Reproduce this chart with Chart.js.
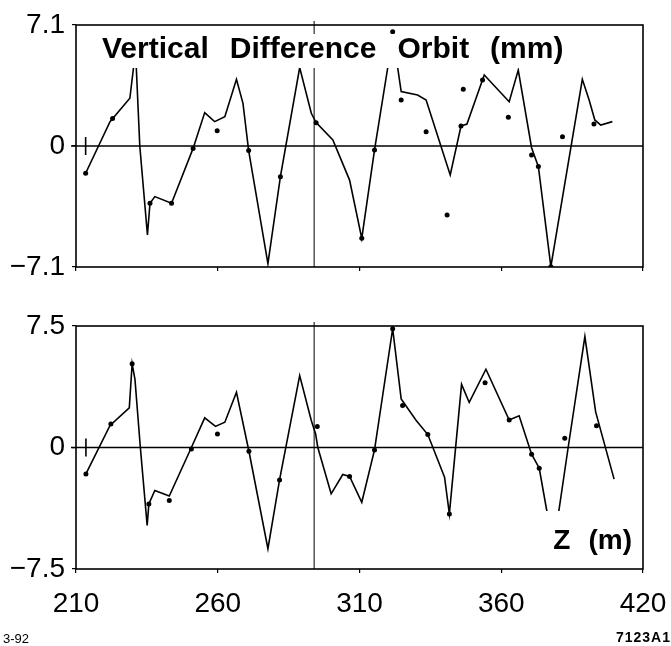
<!DOCTYPE html>
<html>
<head>
<meta charset="utf-8">
<script src="https://cdn.jsdelivr.net/npm/chart.js@4"></script>
<style>
    body { margin: 0; background: #fff; width: 671px; height: 646px; position: relative; overflow: hidden; font-family: "Liberation Sans", Arial, sans-serif; }
    .box { position: absolute; left: 0; width: 671px; }
    #topBox { top: 0; height: 300px; }
    #botBox { top: 300px; height: 346px; }
    .note { position: absolute; font-size: 13px; color: #000; }
</style>
</head>
<body>
<div class="box" id="topBox"><canvas id="topChart"></canvas></div>
<div class="box" id="botBox"><canvas id="botChart"></canvas></div>
<div class="note" style="left:3px; top:631px;">3-92</div>
<div class="note" style="right:0px; top:629px; font-size:14px; font-weight:bold; letter-spacing:1px;">7123A1</div>
<script>
// z position (m) and vertical difference orbit (mm)
const topLineZ = [213.4, 222.0, 229.0, 231.0, 232.5, 235.2, 236.1, 237.8, 243.7, 251.3, 255.4, 258.9, 262.5, 266.6, 268.9, 270.9, 277.7, 282.1, 288.9, 293.0, 294.7, 300.6, 306.5, 310.8, 315.3, 321.8, 324.7, 330.5, 333.5, 342.0, 345.8, 347.9, 354.0, 362.8, 366.0, 370.7, 373.1, 377.5, 388.6, 391.0, 393.0, 395.1, 399.2];
const topLineV = [-1.60, 1.43, 2.80, 5.6, 0.0, -5.22, -3.36, -2.97, -3.36, -0.14, 1.96, 1.43, 1.72, 3.91, 2.50, -0.27, -6.90, -1.80, 4.60, 1.92, 1.37, 0.35, -2.00, -5.42, -0.23, 6.50, 3.19, 2.99, 2.70, -1.70, 1.17, 1.29, 4.17, 2.60, 4.46, -0.10, -1.21, -7.08, 3.91, 2.70, 1.53, 1.23, 1.43];
const topDotZ = [213.4, 222.9, 236.1, 243.7, 251.3, 259.8, 270.9, 282.1, 294.7, 310.8, 315.3, 321.7, 324.7, 333.5, 340.9, 345.8, 346.6, 353.4, 362.5, 370.7, 373.1, 377.5, 381.6, 392.7];
const topDotV = [-1.60, 1.62, -3.36, -3.36, -0.14, 0.90, -0.27, -1.80, 1.37, -5.42, -0.23, 6.70, 2.70, 0.84, -4.05, 1.17, 3.33, 3.87, 1.68, -0.53, -1.21, -7.08, 0.55, 1.29];

const botLineZ = [213.5, 222.0, 228.8, 229.8, 230.8, 232.7, 235.1, 235.7, 237.8, 242.9, 250.7, 255.4, 259.2, 262.5, 266.6, 271.0, 277.7, 281.8, 288.9, 293.0, 294.5, 295.3, 300.0, 304.1, 306.5, 310.8, 315.3, 321.7, 324.7, 330.0, 334.1, 340.0, 341.7, 346.0, 348.7, 354.6, 362.8, 366.3, 370.7, 373.4, 378.4, 383.6, 389.5, 393.3, 399.8];
const botLineV = [-1.63, 1.36, 2.45, 5.17, 4.20, 0.0, -4.81, -3.48, -2.65, -3.00, 0.0, 1.83, 1.30, 1.56, 3.41, -0.23, -6.25, -2.00, 4.44, 1.67, 0.85, 0.0, -2.86, -1.67, -1.79, -3.38, -0.15, 7.33, 3.00, 1.67, 0.80, -1.83, -4.10, 3.90, 2.78, 4.83, 1.70, 1.96, -0.41, -1.28, -6.20, 0.0, 6.85, 2.20, -1.95];
const botDotZ = [213.5, 222.3, 229.8, 235.7, 242.9, 250.7, 259.9, 271.0, 281.8, 295.1, 306.5, 315.3, 321.7, 325.2, 334.1, 341.7, 354.3, 362.8, 370.7, 373.4, 382.4, 393.6];
const botDotV = [-1.63, 1.45, 5.17, -3.48, -3.27, -0.10, 0.84, -0.23, -2.00, 1.30, -1.79, -0.15, 7.33, 2.60, 0.80, -4.10, 4.00, 1.70, -0.41, -1.28, 0.57, 1.35];

const xTickValues = [210, 260, 310, 360, 410];
const xTickLabels = ["210", "260", "310", "360", "420"];
const topYTicks = [-7.1, 0, 7.1];
const topYLabels = ["\u22127.1", "0", "7.1"];
const botYTicks = [-7.5, 0, 7.5];
const botYLabels = ["\u22127.5", "0", "7.5"];
const titleWords = ["Vertical", "Difference", "Orbit", "(mm)"];
const axisWords = ["Z", "(m)"];
const markerZ = 294;

const FONT = '"Liberation Sans", Arial, sans-serif';

// draws words left to right with a fixed gap, returns the end x
function drawWords(ctx, words, x, y, gap) {
    words.forEach(wd => {
        ctx.fillText(wd, x, y);
        x += ctx.measureText(wd).width + gap;
    });
    return x - gap;
}

function wordsWidth(ctx, words, gap) {
    return words.reduce((s, wd) => s + ctx.measureText(wd).width, 0) + gap * (words.length - 1);
}

const decor = {
    id: 'decor',
    beforeDatasetsDraw(chart, args, opts) {
        const { ctx, chartArea: a, scales: { x, y } } = chart;
        ctx.save();
        ctx.strokeStyle = '#000';
        const y0 = y.getPixelForValue(0);
        ctx.lineWidth = 1.6;
        ctx.beginPath(); ctx.moveTo(a.left - 5, y0); ctx.lineTo(a.right, y0); ctx.stroke();
        const xs = x.getPixelForValue(opts.startZ);
        ctx.beginPath(); ctx.moveTo(xs, y0 - 9); ctx.lineTo(xs, y0 + 9); ctx.stroke();
        ctx.lineWidth = 1;
        const xm = x.getPixelForValue(markerZ);
        ctx.beginPath(); ctx.moveTo(xm, a.top - 4); ctx.lineTo(xm, a.bottom); ctx.stroke();
        ctx.restore();
    },
    afterDatasetsDraw(chart, args, opts) {
        const { ctx, chartArea: a } = chart;
        ctx.save();
        ctx.textAlign = 'left';
        if (opts.title) {
            ctx.font = 'bold 30px ' + FONT;
            const w = wordsWidth(ctx, opts.title, 21);
            const left = a.left + 26;
            ctx.fillStyle = '#fff';
            ctx.fillRect(left - 3, a.top + 9, w + 6, 34);
            ctx.fillStyle = '#000';
            drawWords(ctx, opts.title, left, a.top + 33, 21);
        }
        if (opts.label) {
            ctx.fillStyle = '#fff';
            ctx.fillRect(a.right - 105, a.bottom - 58, 104, 57);
            ctx.fillStyle = '#000';
            ctx.font = 'bold 28px ' + FONT;
            const w = wordsWidth(ctx, opts.label, 18);
            drawWords(ctx, opts.label, a.right - 11 - w, a.bottom - 20, 18);
        }
        ctx.strokeStyle = '#000';
        ctx.lineWidth = 1.6;
        ctx.strokeRect(a.left, a.top, a.right - a.left, a.bottom - a.top);
        ctx.restore();
    }
};

function makeChart(id, lineZ, lineV, dotZ, dotV, yTicks, yLabels, showX, padTop, xHeight, decorOpts) {
    return new Chart(document.getElementById(id), {
        type: 'line',
        data: {
            datasets: [{
                data: lineZ.map((z, i) => ({ x: z, y: lineV[i] })),
                borderColor: '#000',
                borderWidth: 1.6,
                pointRadius: 0,
                tension: 0
            }, {
                data: dotZ.map((z, i) => ({ x: z, y: dotV[i] })),
                showLine: false,
                pointRadius: 2.5,
                pointBackgroundColor: '#000',
                pointBorderWidth: 0
            }]
        },
        options: {
            responsive: true,
            maintainAspectRatio: false,
            animation: false,
            layout: { padding: { top: padTop, right: 28, left: 0, bottom: 0 } },
            plugins: { legend: { display: false }, tooltip: { enabled: false }, decor: decorOpts },
            scales: {
                x: {
                    type: 'linear', min: 210, max: 410,
                    afterBuildTicks: s => { s.ticks = xTickValues.map(v => ({ value: v })); },
                    afterFit: s => { s.height = xHeight; s.paddingLeft = 0; s.paddingRight = 0; },
                    ticks: {
                        display: showX, color: '#000', padding: 14, maxRotation: 0, autoSkip: false,
                        font: { family: FONT, size: 28 },
                        callback: (v, i) => xTickLabels[i]
                    },
                    grid: { drawOnChartArea: false, tickLength: 4, color: '#000', lineWidth: 1.2 },
                    border: { display: false }
                },
                y: {
                    min: yTicks[0], max: yTicks[yTicks.length - 1],
                    afterBuildTicks: s => { s.ticks = yTicks.map(v => ({ value: v })); },
                    afterFit: s => { s.width = 76; s.paddingTop = 0; s.paddingBottom = 0; },
                    ticks: {
                        color: '#000', padding: 7,
                        font: { family: FONT, size: 28 },
                        callback: (v, i) => yLabels[i]
                    },
                    grid: { drawOnChartArea: false, tickLength: 4, color: '#000', lineWidth: 1.2 },
                    border: { display: false }
                }
            }
        },
        plugins: [decor]
    });
}

makeChart('topChart', topLineZ, topLineV, topDotZ, topDotV, topYTicks, topYLabels, false, 25, 33,
    { title: titleWords, startZ: topLineZ[0] });
makeChart('botChart', botLineZ, botLineV, botDotZ, botDotV, botYTicks, botYLabels, true, 26, 77,
    { label: axisWords, startZ: botLineZ[0] });
</script>
</body>
</html>
